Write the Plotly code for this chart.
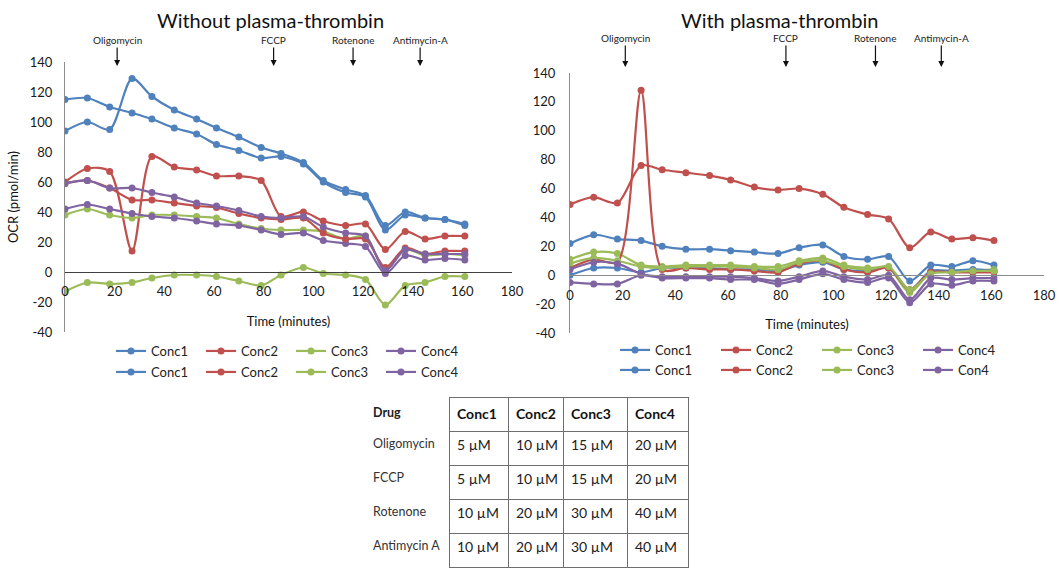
import plotly.graph_objects as go

# ---------------- data ----------------
time_min = [0, 9, 18, 27, 35, 44, 53, 61, 70, 79, 87, 96, 104, 113, 121, 129, 137, 145, 153, 161]

# Without plasma-thrombin (row 1 = set A, row 2 = set B)
wo_conc1_a = [115, 116, 110, 106, 102, 96, 92, 85, 81, 76, 77, 72, 60, 53, 50, 28, 38, 36, 35, 31]
wo_conc2_a = [60, 69, 67, 14, 77, 70, 68, 64, 64, 61, 37, 40, 34, 31, 32, 15, 27, 22, 24, 24]
wo_conc3_a = [38, 42, 38, 36, 38, 38, 37, 36, 32, 29, 28, 28, 27, 22, 24, 1, 15, 11, 12, 11]
wo_conc4_a = [42, 45, 42, 39, 37, 36, 34, 32, 31, 28, 25, 26, 21, 19, 17, -1, 11, 8, 9, 8]
wo_conc1_b = [94, 100, 95, 129, 117, 108, 102, 96, 90, 83, 79, 73, 61, 55, 51, 31, 40, 36, 35, 32]
wo_conc2_b = [59, 61, 56, 48, 48, 46, 44, 43, 39, 36, 35, 36, 26, 22, 22, 3, 16, 12, 14, 14]
wo_conc3_b = [-13, -7, -8, -7, -4, -2, -2, -3, -6, -9, -2, 3, -1, -2, -5, -22, -9, -7, -3, -3]
wo_conc4_b = [59, 61, 56, 56, 53, 50, 46, 44, 41, 37, 36, 37, 30, 26, 24, 1, 15, 12, 12, 12]

# With plasma-thrombin
w_conc1_a = [22, 28, 25, 24, 20, 18, 18, 17, 16, 15, 19, 21, 13, 11, 13, -4, 7, 6, 10, 7]
w_conc2_a = [49, 54, 50, 76, 73, 71, 69, 66, 61, 59, 60, 56, 47, 42, 39, 19, 30, 25, 26, 24]
w_conc3_a = [11, 16, 15, 7, 6, 7, 7, 7, 6, 6, 10, 12, 7, 5, 5, -12, 2, 3, 3, 4]
w_conc4_a = [-5, -6, -6, 0, -2, -2, -2, -3, -3, -6, -3, 1, -3, -5, -2, -19, -6, -7, -4, -4]
w_conc1_b = [0, 5, 5, 2, 5, 5, 5, 4, 4, 3, 7, 9, 4, 3, 5, -10, 3, 3, 4, 3]
w_conc2_b = [5, 11, 9, 128, 4, 5, 4, 4, 3, 2, 8, 10, 4, 2, 5, -10, 2, 2, 2, 2]
w_conc3_b = [8, 12, 10, 6, 5, 6, 6, 6, 5, 4, 9, 10, 6, 4, 6, -10, 1, 2, 3, 3]
w_conc4_b = [4, 9, 8, 1, -1, -1, -1, -1, -2, -4, -1, 3, -1, -3, 0, -17, -2, -3, -2, -2]

legend_names_left = ["Conc1", "Conc2", "Conc3", "Conc4"]
legend_names_right_row2 = ["Conc1", "Conc2", "Conc3", "Con4"]

drug_names = ["Oligomycin", "FCCP", "Rotenone", "Antimycin-A"]
inject_left = [21, 84, 116, 143]
inject_right = [21, 82, 116, 141]

y_tickvals = [-40, -20, 0, 20, 40, 60, 80, 100, 120, 140]
y_ticktext = ["-40", "-20", "0", "20", "40", "60", "80", "100", "120", "140"]
x_tickvals = [0, 20, 40, 60, 80, 100, 120, 140, 160, 180]

table_drugs = ["Oligomycin", "FCCP", "Rotenone", "Antimycin A"]
table_conc_headers = ["Conc1", "Conc2", "Conc3", "Conc4"]
oligomycin_uM = [5, 10, 15, 20]
fccp_uM = [5, 10, 15, 20]
rotenone_uM = [10, 20, 30, 40]
antimycin_uM = [10, 20, 30, 40]

# ---------------- style ----------------
colors = ["#4F81BD", "#C0504D", "#9BBB59", "#8064A2"]
FONT = "Lato"
W, H = 1059, 568
NBSP = "\u00a0"

def px_x(p):
    return p / W

def px_y(p):
    return 1 - p / H

fig = go.Figure()

left_sets = [[wo_conc1_a, wo_conc2_a, wo_conc3_a, wo_conc4_a],
             [wo_conc1_b, wo_conc2_b, wo_conc3_b, wo_conc4_b]]
right_sets = [[w_conc1_a, w_conc2_a, w_conc3_a, w_conc4_a],
              [w_conc1_b, w_conc2_b, w_conc3_b, w_conc4_b]]

for r, series in enumerate(left_sets):
    for i, ys in enumerate(series):
        fig.add_trace(go.Scatter(
            x=time_min, y=ys, mode="lines+markers", name=legend_names_left[i],
            line=dict(color=colors[i], width=2.2, shape="spline", smoothing=0.8),
            marker=dict(color=colors[i], size=7),
            xaxis="x", yaxis="y", legend="legend" if r == 0 else "legend2",
            showlegend=True))

for r, series in enumerate(right_sets):
    names = legend_names_left if r == 0 else legend_names_right_row2
    for i, ys in enumerate(series):
        fig.add_trace(go.Scatter(
            x=time_min, y=ys, mode="lines+markers", name=names[i],
            line=dict(color=colors[i], width=2.2, shape="spline", smoothing=0.8),
            marker=dict(color=colors[i], size=7),
            xaxis="x2", yaxis="y2", legend="legend3" if r == 0 else "legend4",
            showlegend=True))

# tables
fig.add_trace(go.Table(
    domain=dict(x=[px_x(365), px_x(449)], y=[0, px_y(397)]),
    columnwidth=[1],
    header=dict(values=["<b>Drug</b>"], height=34, align="left",
                fill_color="white", line_color="rgba(0,0,0,0)",
                font=dict(family=FONT, size=12.5, color="#222")),
    cells=dict(values=[[d.replace(" ", NBSP) for d in table_drugs]], height=34, align="left",
               fill_color="white", line_color="rgba(0,0,0,0)",
               font=dict(family=FONT, size=12.5, color="#333"))))

conc_columns = []
for j in range(4):
    conc_columns.append([f"{oligomycin_uM[j]}{NBSP}µM", f"{fccp_uM[j]}{NBSP}µM",
                         f"{rotenone_uM[j]}{NBSP}µM", f"{antimycin_uM[j]}{NBSP}µM"])

fig.add_trace(go.Table(
    domain=dict(x=[px_x(449), px_x(689)], y=[0, px_y(397)]),
    columnwidth=[59, 55, 64, 61],
    header=dict(values=[f"<b>{h}</b>" for h in table_conc_headers], height=34,
                align="left", fill_color="white", line_color="#6e6e6e",
                font=dict(family=FONT, size=14, color="#111")),
    cells=dict(values=conc_columns, height=34, align="left",
               fill_color="white", line_color="#6e6e6e",
               font=dict(family=FONT, size=14, color="#222"))))

# axes geometry
ly0, ly1 = px_y(332), px_y(62)
ry0, ry1 = px_y(333), px_y(73)
lzero = ly0 + (40 / 180) * (ly1 - ly0)
rzero = ry0 + (40 / 180) * (ry1 - ry0)

tickfont = dict(family=FONT, size=13, color="#1a1a1a")

annotations = [
    dict(text="Without plasma-thrombin", x=px_x(270), y=px_y(20), xref="paper", yref="paper",
         xanchor="center", yanchor="middle",
         showarrow=False, font=dict(family=FONT, size=20, color="#111")),
    dict(text="With plasma-thrombin", x=px_x(779), y=px_y(20), xref="paper", yref="paper",
         xanchor="center", yanchor="middle",
         showarrow=False, font=dict(family=FONT, size=20, color="#111")),
]
for name, t in zip(drug_names, inject_left):
    annotations.append(dict(text=name, x=t, y=px_y(66), xref="x", yref="paper",
                            showarrow=True, ax=0, ay=-26, arrowhead=2, arrowsize=1,
                            arrowwidth=1.2, arrowcolor="#111", standoff=0,
                            font=dict(family=FONT, size=10, color="#222")))
for name, t in zip(drug_names, inject_right):
    annotations.append(dict(text=name, x=t, y=px_y(67), xref="x2", yref="paper",
                            showarrow=True, ax=0, ay=-29, arrowhead=2, arrowsize=1,
                            arrowwidth=1.2, arrowcolor="#111", standoff=0,
                            font=dict(family=FONT, size=10, color="#222")))

legend_common = dict(orientation="h", xanchor="left", yanchor="middle",
                     font=dict(family=FONT, size=13, color="#222"),
                     bgcolor="rgba(0,0,0,0)", entrywidthmode="pixels")

fig.update_layout(
    width=W, height=H,
    margin=dict(l=0, r=0, t=0, b=0, autoexpand=False),
    paper_bgcolor="white", plot_bgcolor="white",
    font=dict(family=FONT, color="#222"),
    xaxis=dict(domain=[px_x(65), px_x(512)], range=[0, 180], tickvals=x_tickvals,
               anchor="free", position=lzero, showline=True, linecolor="#404040",
               linewidth=1, showgrid=False, zeroline=False, ticks="", tickfont=tickfont,
               ticklabelstandoff=7, automargin=False,
               title=dict(text="Time (minutes)", font=dict(family=FONT, size=13, color="#111"),
                          standoff=19)),
    yaxis=dict(domain=[ly0, ly1], range=[-40, 140], tickvals=y_tickvals, ticktext=y_ticktext,
               anchor="x", showline=True, linecolor="#8c8c8c", linewidth=1, showgrid=False,
               zeroline=False, ticks="", tickfont=tickfont, ticklabelstandoff=9,
               automargin=False,
               title=dict(text="OCR (pmol/min)", font=dict(family=FONT, size=13, color="#111"),
                          standoff=8)),
    xaxis2=dict(domain=[px_x(570), px_x(1044)], range=[0, 180], tickvals=x_tickvals,
                anchor="free", position=rzero, showline=True, linecolor="#8c8c8c",
                linewidth=1, showgrid=False, zeroline=False, ticks="", tickfont=tickfont,
                ticklabelstandoff=8, automargin=False,
                title=dict(text="Time (minutes)", font=dict(family=FONT, size=13, color="#111"),
                           standoff=18)),
    yaxis2=dict(domain=[ry0, ry1], range=[-40, 140], tickvals=y_tickvals, ticktext=y_ticktext,
                anchor="x2", showline=True, linecolor="#8c8c8c", linewidth=1, showgrid=False,
                zeroline=False, ticks="", tickfont=tickfont, ticklabelstandoff=11,
                automargin=False),
    legend=dict(x=px_x(111), y=px_y(351), entrywidth=45, **legend_common),
    legend2=dict(x=px_x(111), y=px_y(372), entrywidth=45, **legend_common),
    legend3=dict(x=px_x(615), y=px_y(350), entrywidth=56, **legend_common),
    legend4=dict(x=px_x(615), y=px_y(370), entrywidth=56, **legend_common),
    annotations=annotations,
)

fig.write_html("out.html")
